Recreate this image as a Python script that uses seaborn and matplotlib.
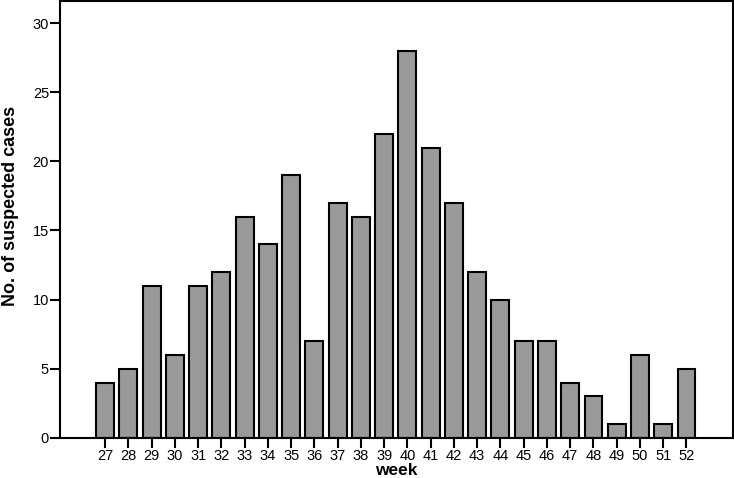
import pandas as pd
import numpy as np
import matplotlib.pyplot as plt
import seaborn as sns

weeks = [str(w) for w in range(27, 53)]
cases = [4, 5, 11, 6, 11, 12, 16, 14, 19, 7, 17, 16, 22, 28, 21, 17, 12, 10, 7, 7, 4, 3, 1, 6, 1, 5]

df = pd.DataFrame({"week": weeks, "cases": cases})

sns.set_style("ticks", {"axes.edgecolor": "black", "xtick.color": "black",
                        "ytick.color": "black", "text.color": "black",
                        "axes.labelcolor": "black"})
plt.rcParams["font.family"] = ["Liberation Sans", "DejaVu Sans"]

fig = plt.figure(figsize=(7.34, 4.78), dpi=100)
ax = fig.add_axes([0.082, 0.084, 0.916, 0.914])

sns.barplot(data=df, x="week", y="cases", color="#999999", saturation=1,
            edgecolor="black", linewidth=1.5, width=0.77, ax=ax)

ax.set_xlim(-1.93, 26.98)
ax.set_ylim(0, 31.6)
ax.set_yticks([0, 5, 10, 15, 20, 25, 30])
ax.tick_params(axis="both", direction="out", length=7, width=1.5, labelsize=10.5, pad=1)
for s in ax.spines.values():
    s.set_linewidth(1.5)
    s.set_visible(True)

ax.set_xlabel("week", fontsize=12.5, fontweight="bold", labelpad=0)
ax.set_ylabel("No. of suspected cases", fontsize=13, fontweight="bold",
              family=["Liberation Sans Narrow", "Liberation Sans", "DejaVu Sans"])
ax.yaxis.set_label_coords(-0.062, 0.53)

fig.savefig("out.png", dpi=100)
